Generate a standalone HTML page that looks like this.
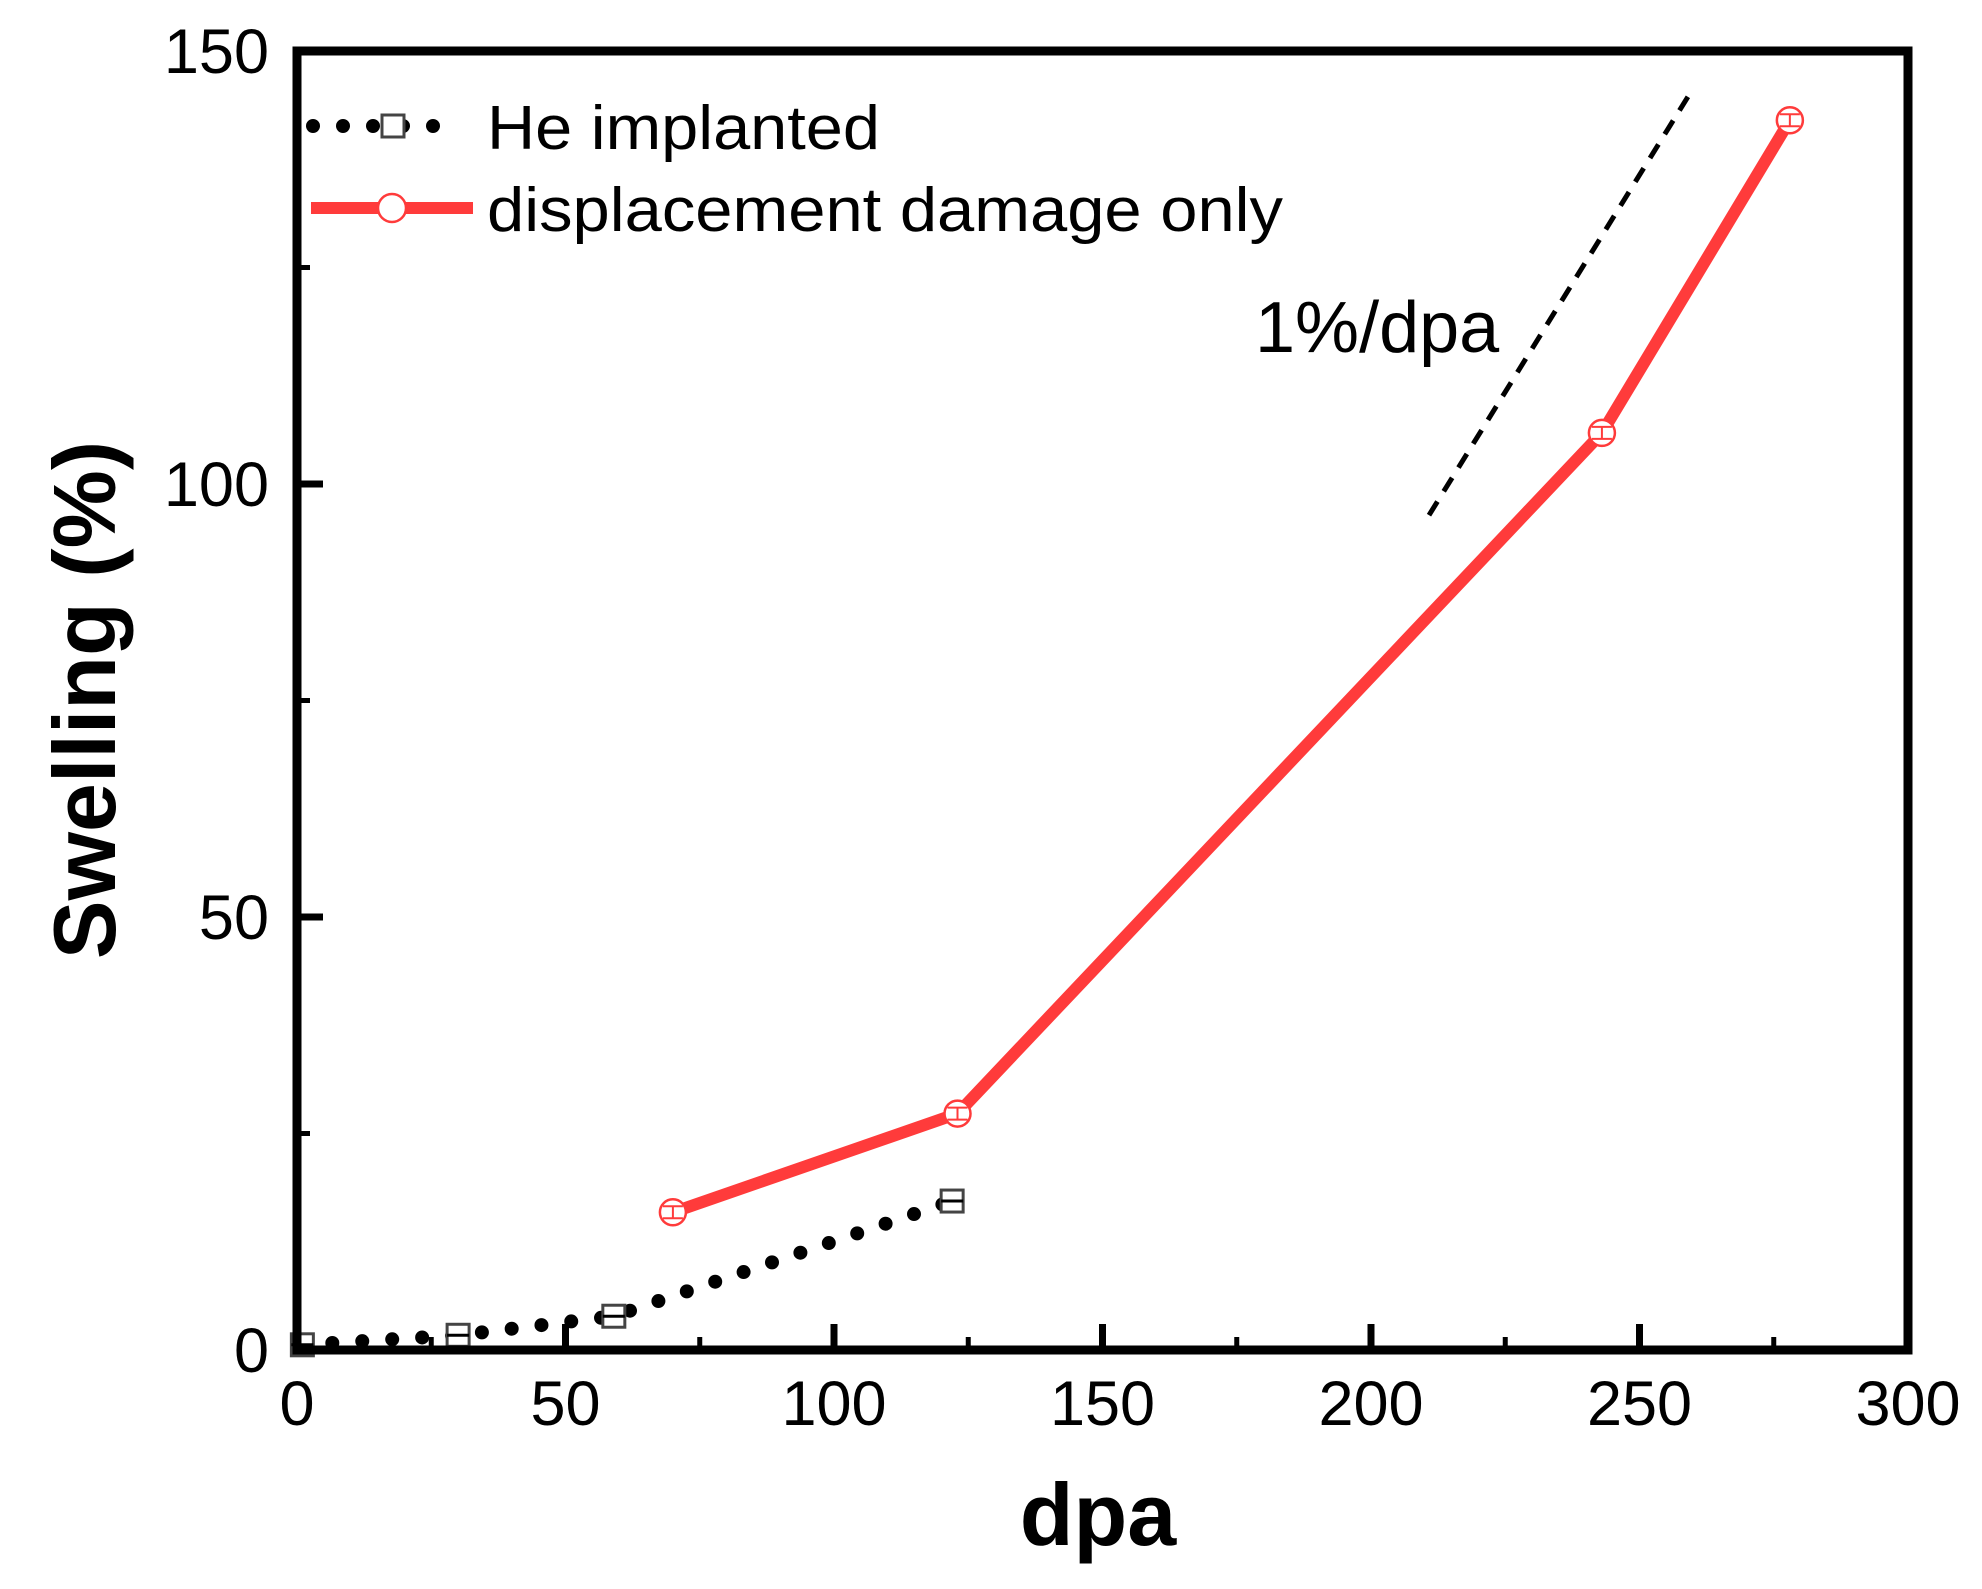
<!DOCTYPE html>
<html><head><meta charset="utf-8"><style>
html,body{margin:0;padding:0;background:#fff;}
svg{display:block;font-family:"Liberation Sans",sans-serif;}
</style></head><body>
<svg id="chart" width="1982" height="1589" viewBox="0 0 1982 1589"></svg>
<script>
const xTicks=[0,50,100,150,200,250,300];
const yTicks=[0,50,100,150];
const heDpa=[1,30,59,122];
const heSwell=[0.6,1.7,3.9,17.2];
const ddDpa=[70,123,243,278];
const ddSwell=[15.9,27.3,105.9,142];
const refDpa=[210.8,259.6];
const refSwell=[96.4,145.3];

const L=297,R=1908,T=51,B=1350;
const X=v=>L+(v-0)/(300-0)*(R-L);
const Y=v=>B-(v-0)/(150-0)*(B-T);
const svg=document.getElementById('chart');
const NS='http://www.w3.org/2000/svg';
function mk(tag,attrs,parent){const e=document.createElementNS(NS,tag);for(const k in attrs)e.setAttribute(k,attrs[k]);(parent||svg).appendChild(e);return e;}

xTicks.forEach((t,i)=>{
  const l=mk('line',{x1:X(t),x2:X(t),y1:B,y2:B-26,stroke:'#000','stroke-width':7});
  
  
  if(i<xTicks.length-1){
    const m=mk('line',{x1:X(t+25),x2:X(t+25),y1:B,y2:B-13,stroke:'#000','stroke-width':5});
    
    
  }
  const tx=mk('text',{x:X(t),y:1425,'font-size':63,'text-anchor':'middle',fill:'#000'});
  tx.textContent=t;
  
  
});
yTicks.forEach((t,i)=>{
  const l=mk('line',{x1:L,x2:L+26,y1:Y(t),y2:Y(t),stroke:'#000','stroke-width':7});
  
  
  if(i<yTicks.length-1){
    const m=mk('line',{x1:L,x2:L+13,y1:Y(t+25),y2:Y(t+25),stroke:'#000','stroke-width':5});
    
    
  }
  const tx=mk('text',{x:269,y:Y(t)+22,'font-size':63,'text-anchor':'end',fill:'#000'});
  tx.textContent=t;
  
  
});

const ref=mk('line',{x1:X(refDpa[0]),y1:Y(refSwell[0]),x2:X(refDpa[1]),y2:Y(refSwell[1]),stroke:'#000','stroke-width':5,'stroke-dasharray':'16 12'});


const rt=mk('text',{x:1255,y:352,'font-size':72,fill:'#000'});
rt.textContent='1%/dpa';



const hePts=heDpa.map((d,i)=>X(d)+','+Y(heSwell[i])).join(' ');
const heLine=mk('polyline',{points:hePts,fill:'none',stroke:'#000','stroke-width':14,'stroke-linecap':'round','stroke-dasharray':'0 30'});


heDpa.forEach((d,i)=>{
  const g=mk('g',{});
  
  
  const cx=X(d),cy=Y(heSwell[i]);
  mk('rect',{x:cx-11,y:cy-11,width:22,height:22,fill:'#fff',stroke:'#444','stroke-width':3},g);
  mk('line',{x1:cx-11,x2:cx+11,y1:cy,y2:cy,stroke:'#000','stroke-width':3},g);
});

const ddPts=ddDpa.map((d,i)=>X(d)+','+Y(ddSwell[i])).join(' ');
const ddLine=mk('polyline',{points:ddPts,fill:'none',stroke:'#ff3b3b','stroke-width':12,'stroke-linejoin':'round'});


ddDpa.forEach((d,i)=>{
  const g=mk('g',{});
  
  
  const cx=X(d),cy=Y(ddSwell[i]);
  mk('circle',{cx:cx,cy:cy,r:13,fill:'#fff',stroke:'#ff3b3b','stroke-width':2.5},g);
  mk('line',{x1:cx-10,x2:cx+10,y1:cy-6,y2:cy-6,stroke:'#ff3b3b','stroke-width':2},g);
  mk('line',{x1:cx-10,x2:cx+10,y1:cy+6,y2:cy+6,stroke:'#ff3b3b','stroke-width':2},g);
  mk('line',{x1:cx,x2:cx,y1:cy-6,y2:cy+6,stroke:'#ff3b3b','stroke-width':2},g);
});

const fr=mk('rect',{x:L,y:T,width:R-L,height:B-T,fill:'none',stroke:'#000','stroke-width':9});



const lg=mk('g',{});


const l1=mk('g',{},lg);


mk('line',{x1:313,x2:450,y1:126,y2:126,stroke:'#000','stroke-width':14,'stroke-linecap':'round','stroke-dasharray':'0 30'},l1);
mk('rect',{x:382,y:115,width:22,height:22,fill:'#fff',stroke:'#444','stroke-width':3},l1);
const t1=mk('text',{x:487,y:149,'font-size':62,fill:'#000',textLength:393,lengthAdjust:'spacingAndGlyphs'},l1);
t1.textContent='He implanted';
const l2=mk('g',{},lg);


mk('line',{x1:311,x2:473,y1:208,y2:208,stroke:'#ff3b3b','stroke-width':12},l2);
mk('circle',{cx:392,cy:208,r:14,fill:'#fff',stroke:'#ff3b3b','stroke-width':2.5},l2);
const t2=mk('text',{x:487,y:231,'font-size':62,fill:'#000',textLength:796,lengthAdjust:'spacingAndGlyphs'},l2);
t2.textContent='displacement damage only';

const xt=mk('text',{x:1098,y:1545,'font-size':88,'font-weight':'bold','text-anchor':'middle',fill:'#000'});
xt.textContent='dpa';


const yt=mk('text',{x:0,y:0,'font-size':88,'font-weight':'bold','text-anchor':'middle',fill:'#000',transform:'translate(115,700) rotate(-90)'});
yt.textContent='Swelling (%)';


</script>
</body></html>
